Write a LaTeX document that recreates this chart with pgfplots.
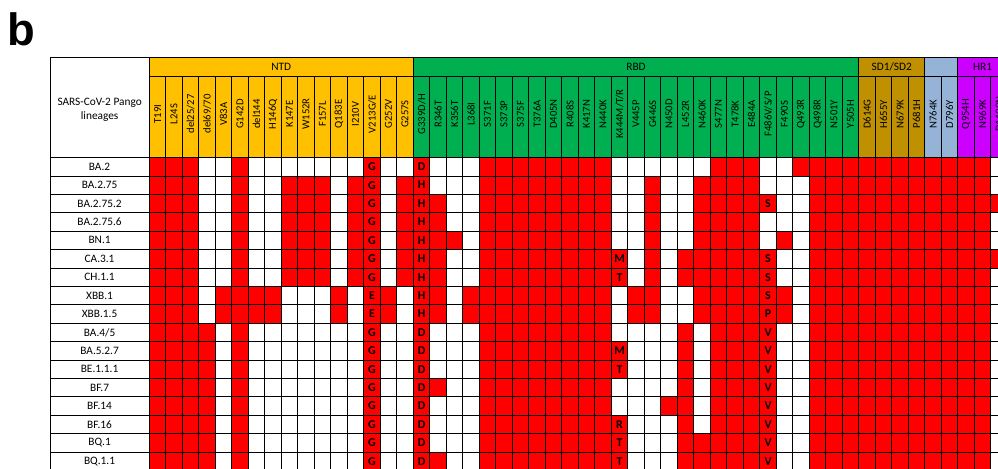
\documentclass[border=0pt]{standalone}
\usepackage{pgfplots}
\pgfplotsset{compat=1.18}
\usepackage{pgfplotstable}
\usepackage{fontspec}
\setmainfont{Carlito}
\newfontfamily\panelfont{Liberation Sans}

\definecolor{ntd}{HTML}{FFC000}
\definecolor{rbd}{HTML}{00B050}
\definecolor{sdone}{HTML}{BF9000}
\definecolor{stwo}{HTML}{95B3D7}
\definecolor{hrone}{HTML}{CC00FF}
\definecolor{hit}{HTML}{FF0000}

% one grid cell (16.5 x 18.4 px at 0.75pt per px)
\pgfdeclareplotmark{cell}{%
  \pgfpathrectangle{\pgfpoint{-6.1875pt}{-6.9pt}}{\pgfpoint{12.375pt}{13.8pt}}%
  \pgfusepathqfillstroke}

% 1 = mutation present in the lineage, 0 = absent
% rows: BA.2, BA.2.75, BA.2.75.2, BA.2.75.6, BN.1, CA.3.1, CH.1.1, XBB.1, XBB.1.5,
%       BA.4/5, BA.5.2.7, BE.1.1.1, BF.7, BF.14, BF.16, BQ.1, BQ.1.1
\pgfplotstableread{
T19I L24S del25 del69 V83A G142D del144 H146Q K147E W152R F157L Q183E I210V V213 G252V G257S G339 R346T K356T L368I S371F S373P S375F T376A D405N R408S K417N N440K K444 V445P G446S N450D L452R N460K S477N T478K E484A F486 F490S Q493R Q498R N501Y Y505H D614G H655Y N679K P681H N764K D796Y Q954H N969K D1199N
1 1 1 0 0 1 0 0 0 0 0 0 0 1 0 0   1 0 0 0 1 1 1 1 1 1 1 1 0 0 0 0 0 0 1 1 1 0 0 1 1 1 1   1 1 1 1 1 1 1 1 0
1 1 1 0 0 1 0 0 1 1 1 0 1 1 0 1   1 0 0 0 1 1 1 1 1 1 1 1 0 0 1 0 0 1 1 1 1 0 0 0 1 1 1   1 1 1 1 1 1 1 1 0
1 1 1 0 0 1 0 0 1 1 1 0 1 1 0 1   1 1 0 0 1 1 1 1 1 1 1 1 0 0 1 0 0 1 1 1 1 1 0 0 1 1 1   1 1 1 1 1 1 1 1 1
1 1 1 0 0 1 0 0 1 1 1 0 1 1 0 1   1 1 0 0 1 1 1 1 1 1 1 1 0 0 1 0 0 1 1 1 1 0 0 0 1 1 1   1 1 1 1 1 1 1 1 0
1 1 1 0 0 1 0 0 1 1 1 0 1 1 0 1   1 1 1 0 1 1 1 1 1 1 1 1 0 0 1 0 0 1 1 1 1 0 1 0 1 1 1   1 1 1 1 1 1 1 1 0
1 1 1 0 0 1 0 0 1 1 1 0 1 1 0 1   1 1 0 0 1 1 1 1 1 1 1 1 1 0 1 0 1 1 1 1 1 1 0 0 1 1 1   1 1 1 1 1 1 1 1 1
1 1 1 0 0 1 0 0 1 1 1 0 1 1 0 1   1 1 0 0 1 1 1 1 1 1 1 1 1 0 1 0 1 1 1 1 1 1 0 0 1 1 1   1 1 1 1 1 1 1 1 0
1 1 1 0 1 1 1 1 0 0 0 1 0 1 1 0   1 1 0 1 1 1 1 1 1 1 1 1 0 1 1 0 0 1 1 1 1 1 1 0 1 1 1   1 1 1 1 1 1 1 1 0
1 1 1 0 1 1 1 1 0 0 0 1 0 1 1 0   1 1 0 1 1 1 1 1 1 1 1 1 0 1 1 0 0 1 1 1 1 1 1 0 1 1 1   1 1 1 1 1 1 1 1 0
1 1 1 1 0 1 0 0 0 0 0 0 0 1 0 0   1 0 0 0 1 1 1 1 1 1 1 1 0 0 0 0 1 0 1 1 1 1 0 0 1 1 1   1 1 1 1 1 1 1 1 0
1 1 1 1 0 1 0 0 0 0 0 0 0 1 0 0   1 0 0 0 1 1 1 1 1 1 1 1 1 0 0 0 1 0 1 1 1 1 0 0 1 1 1   1 1 1 1 1 1 1 1 0
1 1 1 1 0 1 0 0 0 0 0 0 0 1 0 0   1 0 0 0 1 1 1 1 1 1 1 1 1 0 0 0 1 0 1 1 1 1 0 0 1 1 1   1 1 1 1 1 1 1 1 0
1 1 1 1 0 1 0 0 0 0 0 0 0 1 0 0   1 1 0 0 1 1 1 1 1 1 1 1 0 0 0 0 1 0 1 1 1 1 0 0 1 1 1   1 1 1 1 1 1 1 1 0
1 1 1 1 0 1 0 0 0 0 0 0 0 1 0 0   1 0 0 0 1 1 1 1 1 1 1 1 0 0 0 1 1 0 1 1 1 1 0 0 1 1 1   1 1 1 1 1 1 1 1 0
1 1 1 1 0 1 0 0 0 0 0 0 0 1 0 0   1 0 0 0 1 1 1 1 1 1 1 1 1 0 0 0 1 0 1 1 1 1 0 0 1 1 1   1 1 1 1 1 1 1 1 0
1 1 1 1 0 1 0 0 0 0 0 0 0 1 0 0   1 0 0 0 1 1 1 1 1 1 1 1 1 0 0 0 1 1 1 1 1 1 0 0 1 1 1   1 1 1 1 1 1 1 1 0
1 1 1 1 0 1 0 0 0 0 0 0 0 1 0 0   1 1 0 0 1 1 1 1 1 1 1 1 1 0 0 0 1 1 1 1 1 1 0 0 1 1 1   1 1 1 1 1 1 1 1 0
}\cells

% residue found at the multi-allele positions
\pgfplotstableread{
x y lab
13 0 G
13 1 G
13 2 G
13 3 G
13 4 G
13 5 G
13 6 G
13 7 E
13 8 E
13 9 G
13 10 G
13 11 G
13 12 G
13 13 G
13 14 G
13 15 G
13 16 G
16 0 D
16 1 H
16 2 H
16 3 H
16 4 H
16 5 H
16 6 H
16 7 H
16 8 H
16 9 D
16 10 D
16 11 D
16 12 D
16 13 D
16 14 D
16 15 D
16 16 D
28 5 M
28 6 T
28 10 M
28 11 T
28 14 R
28 15 T
28 16 T
37 2 S
37 5 S
37 6 S
37 7 S
37 8 P
37 9 V
37 10 V
37 11 V
37 12 V
37 13 V
37 14 V
37 15 V
37 16 V
}\letters

\begin{document}
\begin{tikzpicture}[x=0.75pt,y=-0.75pt]
\path[use as bounding box] (0,0) rectangle (998,468);
\clip (0,0) rectangle (998,468);
\node[anchor=base west, inner sep=0pt, font=\panelfont\bfseries\fontsize{34}{34}\selectfont] at (7,45) {b};
\begin{axis}[
  at={(111.975pt,-118.125pt)}, anchor=north west,
  x=12.375pt, y=13.8pt, y dir=reverse,
  xmin=-0.5, xmax=51.5, ymin=-0.5, ymax=16.5,
  clip=false, axis on top,
  axis line style={black, line width=0.6pt},
  major tick length=0pt,
  xtick={0,...,51},
  xticklabels={T19I,L24S,del25/27,del69/70,V83A,G142D,del144,H146Q,K147E,W152R,F157L,Q183E,I210V,V213G/E,G252V,G257S,G339D/H,R346T,K356T,L368I,S371F,S373P,S375F,T376A,D405N,R408S,K417N,N440K,K444M/T/R,V445P,G446S,N450D,L452R,N460K,S477N,T478K,E484A,F486V/S/P,F490S,Q493R,Q498R,N501Y,Y505H,D614G,H655Y,N679K,P681H,N764K,D796Y,Q954H,N969K,D1199N},
  xticklabel pos=upper,
  xticklabel shift=32.6pt,
  xticklabel style={rotate=90, anchor=center, font=\fontsize{8}{8}\selectfont},
  ytick={0,...,16},
  yticklabels={BA.2,BA.2.75,BA.2.75.2,BA.2.75.6,BN.1,CA.3.1,CH.1.1,XBB.1,XBB.1.5,BA.4/5,BA.5.2.7,BE.1.1.1,BF.7,BF.14,BF.16,BQ.1,BQ.1.1},
  yticklabel shift=37.3pt,
  yticklabel style={anchor=center, font=\fontsize{8.5}{8.5}\selectfont},
  colormap={presence}{color=(white) color=(hit)},
  point meta min=0, point meta max=1,
]
% domain bands and header cells
\fill[ntd]   (-0.5,-5.935) rectangle (15.5,-0.5);
\fill[rbd]   (15.5,-5.935) rectangle (42.5,-0.5);
\fill[sdone] (42.5,-5.935) rectangle (46.5,-0.5);
\fill[stwo]  (46.5,-5.935) rectangle (48.5,-0.5);
\fill[hrone] (48.5,-5.935) rectangle (51.5,-0.5);
\draw[line width=0.6pt] (-6.518,-5.935) -- (51.5,-5.935);
\draw[line width=0.6pt] (-0.5,-4.902) -- (51.5,-4.902);
\draw[line width=0.6pt] foreach \k in {-0.5,0.5,...,51.5} {(\k,-4.902) -- (\k,-0.5)};
\draw[line width=0.6pt] foreach \k in {-0.5,15.5,42.5,46.5,48.5} {(\k,-5.935) -- (\k,-4.902)};
% lineage column
\draw[line width=0.6pt] (-6.518,-5.935) -- (-6.518,16.5);
\draw[line width=0.6pt] foreach \r in {-0.5,0.5,...,16.5} {(-6.518,\r) -- (-0.5,\r)};
\node[align=center, font=\fontsize{8.5}{10.5}\selectfont] at (-3.509,-3.1) {SARS-CoV-2 Pango\\lineages};
\node[font=\fontsize{8.5}{8.5}\selectfont] at (7.5,-5.42) {NTD};
\node[font=\fontsize{8.5}{8.5}\selectfont] at (29,-5.42) {RBD};
\node[font=\fontsize{8.5}{8.5}\selectfont] at (44.5,-5.42) {SD1/SD2};
\node[font=\fontsize{8.5}{8.5}\selectfont] at (50,-5.42) {HR1};

% presence grid, one mutation column at a time
\pgfplotsinvokeforeach{0,...,51}{
  \addplot[scatter, only marks, mark=cell, point meta=explicit,
    scatter/use mapped color={draw=black, fill=mapped color},
    line width=0.6pt]
    table[x expr=#1, y expr=\coordindex, meta index=#1] {\cells};
}
% residue letters
\addplot[only marks, mark=none, nodes near coords, point meta=explicit symbolic,
  every node near coord/.append style={anchor=center, inner sep=0pt,
    font=\bfseries\fontsize{9}{9}\selectfont, text=black}]
  table[x=x, y=y, meta=lab] {\letters};
\end{axis}
\end{tikzpicture}
\end{document}
